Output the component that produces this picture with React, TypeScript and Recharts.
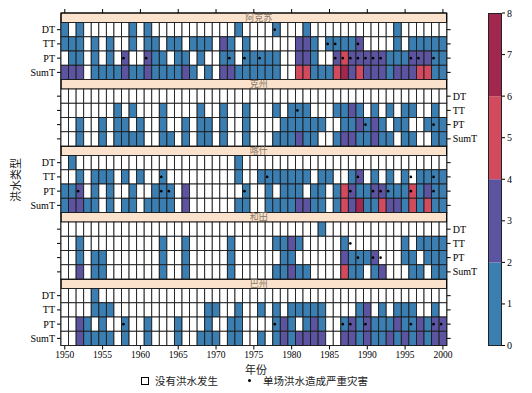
import React from 'react';
import { ScatterChart, Scatter, XAxis, YAxis, ReferenceArea, BarChart, Bar } from 'recharts';

// years on the x axis, one column each
const YEARS = [
  1950, 1951, 1952, 1953, 1954, 1955, 1956, 1957, 1958, 1959,
  1960, 1961, 1962, 1963, 1964, 1965, 1966, 1967, 1968, 1969,
  1970, 1971, 1972, 1973, 1974, 1975, 1976, 1977, 1978, 1979,
  1980, 1981, 1982, 1983, 1984, 1985, 1986, 1987, 1988, 1989,
  1990, 1991, 1992, 1993, 1994, 1995, 1996, 1997, 1998, 1999, 2000,
];
const YEAR_TICKS = [1950, 1955, 1960, 1965, 1970, 1975, 1980, 1985, 1990, 1995, 2000];
const REGIONS = ['阿克苏', '克州', '喀什', '和田', '巴州'];
const TYPES = ['DT', 'TT', 'PT', 'SumT'];
const CBAR_TICKS = [0, 1, 2, 3, 4, 5, 6, 7, 8];

// flood counts per year (0 = no flood)
const akesuDT = [1,0,1,0,0,0,0,0,0,1,0,1,0,0,0,0,0,0,0,0,0,0,0,1,0, 0,0,0,1,0,0,0,1,0,0,0,0,0,0,0,0,0,0,0,1,0,0,0,0,0,0];
const akesuTT = [1,1,1,0,1,0,1,0,0,1,0,1,1,0,1,1,0,1,1,1,0,2,1,0,1, 0,0,0,0,0,0,2,2,1,0,1,1,1,1,2,0,0,0,0,1,0,1,1,1,1,1];
const akesuPT = [0,1,1,0,1,0,1,0,2,0,0,2,1,1,0,1,1,0,1,0,0,1,1,0,1, 1,1,1,1,0,0,2,2,1,0,0,2,4,2,2,2,2,2,1,1,1,2,2,2,1,1];
const akesuSum = [2,2,2,0,1,1,1,1,2,1,1,2,1,1,1,1,2,1,0,1,0,2,2,1,1, 1,1,1,1,0,0,4,4,1,1,1,4,6,2,4,2,2,2,1,2,2,2,4,4,1,1];

const kezhouDT = [0,0,0,0,0,0,0,0,0,0,0,0,0,0,0,0,0,0,0,0,0,0,0,0,0, 0,0,0,0,0,0,0,0,0,0,0,0,0,0,0,0,0,0,0,0,0,0,0,0,0,0];
const kezhouTT = [0,0,0,0,0,0,0,1,0,1,0,0,0,1,0,0,0,0,1,0,0,1,0,0,1, 0,0,0,1,0,1,1,1,0,0,0,1,1,2,1,0,1,0,1,0,1,1,0,0,1,0];
const kezhouPT = [0,0,1,0,0,1,0,1,1,0,1,0,0,1,0,0,1,0,1,1,0,1,0,0,1, 0,0,0,0,1,1,1,1,1,1,0,0,1,1,2,1,2,1,0,1,1,0,0,1,1,1];
const kezhouSum = [0,0,1,0,0,1,0,1,1,1,1,0,0,1,1,0,1,0,1,1,0,1,0,0,1, 0,0,0,1,1,1,2,1,1,0,0,1,2,2,1,1,2,1,1,0,1,1,0,0,1,1];

const kashiDT = [0,1,0,0,0,0,0,0,0,0,0,0,0,0,0,0,0,0,0,0,0,0,0,1,0, 0,0,0,0,0,0,0,0,0,0,0,0,0,0,0,0,0,0,0,0,0,0,0,0,0,0];
const kashiTT = [0,0,1,0,1,1,1,0,1,0,1,0,0,1,0,0,0,0,0,0,0,0,0,1,0, 0,1,1,1,1,1,1,1,0,1,1,0,0,1,2,0,1,0,1,0,1,0,1,1,1,1];
const kashiPT = [1,1,2,0,1,0,1,0,0,1,0,0,1,1,1,0,2,0,0,0,0,0,0,0,1, 0,0,1,0,1,1,1,0,1,1,0,1,4,2,1,1,2,2,1,1,1,4,1,2,1,1];
const kashiSum = [1,2,2,1,1,0,1,0,1,1,0,1,1,1,1,0,2,0,0,0,0,0,0,1,1, 0,0,1,1,1,1,2,2,1,1,0,1,4,2,6,1,1,4,2,2,1,4,1,4,1,1];

const hetianDT = [0,0,0,0,0,0,0,0,0,0,0,0,0,0,0,0,0,0,0,0,0,0,0,0,0, 0,0,0,0,0,0,0,0,0,1,0,0,0,0,0,0,0,0,0,0,0,0,0,0,0,0];
const hetianTT = [0,0,1,0,0,0,0,0,0,0,0,0,0,1,0,0,1,0,0,0,0,0,1,0,0, 0,0,0,1,1,2,1,0,0,0,0,0,1,0,0,0,0,0,0,0,1,0,1,1,1,1];
const hetianPT = [0,0,1,0,1,1,0,0,0,0,0,0,0,1,0,0,1,0,0,0,0,0,1,0,0, 0,0,0,0,1,1,0,0,0,0,0,0,2,1,1,1,2,0,0,0,1,1,0,1,1,1];
const hetianSum = [0,0,2,0,1,1,0,0,0,0,0,0,0,1,0,0,1,0,0,0,0,0,1,0,0, 0,0,0,1,1,2,1,1,0,0,0,0,4,1,1,0,1,2,0,0,0,1,1,0,1,1];

const bazhouDT = [0,0,0,0,1,0,0,0,0,0,0,0,0,0,0,0,0,0,0,0,0,0,0,0,0, 0,0,0,0,0,0,0,0,0,0,0,0,0,0,0,0,0,0,0,0,0,0,0,0,0,0];
const bazhouTT = [0,0,0,0,1,1,1,0,0,0,0,0,0,0,0,0,0,0,0,1,1,0,0,1,0, 0,1,0,1,0,1,1,1,1,1,0,0,0,0,1,2,0,1,0,1,1,1,0,0,1,0];
const bazhouPT = [0,0,2,1,0,1,0,0,1,0,0,1,0,0,0,1,0,0,0,1,0,0,1,1,0, 0,0,0,1,2,1,0,1,2,1,0,0,1,2,1,2,1,1,1,2,1,1,2,1,2,2];
const bazhouSum = [0,0,2,1,1,1,1,0,1,0,0,1,0,0,0,1,0,0,1,1,1,0,1,1,0, 0,1,0,1,2,1,2,2,2,2,0,0,2,2,1,2,1,1,2,1,2,1,2,1,2,2];

// years where a single flood caused a severe disaster
const akesuDotDT = [1978];
const akesuDotTT = [1985, 1986, 1989];
const akesuDotPT = [1958, 1961, 1972, 1974, 1976, 1986, 1987, 1988, 1989, 1990, 1991, 1992, 1996, 1997, 1999];
const kezhouDotTT = [1981];
const kezhouDotPT = [1990, 1999];
const kashiDotTT = [1963, 1977, 1989, 1996, 1999];
const kashiDotPT = [1952, 1963, 1964, 1974, 1988, 1991, 1992, 1993, 1996, 1999];
const hetianDotTT = [1988];
const hetianDotPT = [1989, 1991, 1992];
const bazhouDotPT = [1958, 1978, 1987, 1988, 1990, 1996, 1999, 2000];

const GRID = [
  [akesuDT, akesuTT, akesuPT, akesuSum],
  [kezhouDT, kezhouTT, kezhouPT, kezhouSum],
  [kashiDT, kashiTT, kashiPT, kashiSum],
  [hetianDT, hetianTT, hetianPT, hetianSum],
  [bazhouDT, bazhouTT, bazhouPT, bazhouSum],
];
const DOTS = [
  [akesuDotDT, akesuDotTT, akesuDotPT, []],
  [[], kezhouDotTT, kezhouDotPT, []],
  [[], kashiDotTT, kashiDotPT, []],
  [[], hetianDotTT, hetianDotPT, []],
  [[], [], bazhouDotPT, []],
];

const BIN_COLORS = ['#3b7fb2', '#5c54a0', '#d24a5e', '#a2274f'];
const STRIP_FILL = '#fbe2cc';
const SERIF = '"Liberation Serif", "DejaVu Serif", serif';
const CJK = '"Noto Sans CJK SC", sans-serif';

// layout
const W = 532;
const H = 393;
const LEFT_AXIS_W = 61;
const PLOT_R = 446.7;
const PLOT_T = 13;
const PLOT_B = 345.5;
const STRIP = 0.67;
const PANEL = 4 + STRIP;
const TOTAL = PANEL * REGIONS.length;
const CELL_W = (PLOT_R - LEFT_AXIS_W) / YEARS.length;
const CELL_H = (PLOT_B - PLOT_T) / TOTAL;

const rowY = (p: number, r: number) => p * PANEL + STRIP + r + 0.5;

const cellColor = (v: number) => (v <= 0 ? '#ffffff' : BIN_COLORS[Math.min(3, Math.floor(v / 2))]);

const cells: { x: number; y: number; v: number }[] = [];
GRID.forEach((rows, p) =>
  rows.forEach((vals, r) => vals.forEach((v, i) => cells.push({ x: YEARS[i], y: rowY(p, r), v })))
);
const dots: { x: number; y: number }[] = [];
DOTS.forEach((rows, p) => rows.forEach((ys, r) => ys.forEach((yr) => dots.push({ x: yr, y: rowY(p, r) }))));

const yTicks: number[] = [];
REGIONS.forEach((_, p) => TYPES.forEach((_, r) => yTicks.push(rowY(p, r))));

const tickLabel = (side: 'left' | 'right') => (v: number) => {
  const idx = yTicks.findIndex((t) => Math.abs(t - v) < 1e-6);
  if (idx < 0) return '';
  const p = Math.floor(idx / 4);
  const onLeft = p % 2 === 0;
  if ((side === 'left') !== onLeft) return '';
  return TYPES[idx % 4];
};

const Cell = (props: any) => {
  const { cx, cy, payload } = props;
  return (
    <rect
      x={cx - CELL_W / 2}
      y={cy - CELL_H / 2}
      width={CELL_W}
      height={CELL_H}
      fill={cellColor(payload.v)}
      stroke="#1c1c1c"
      strokeWidth={0.9}
    />
  );
};

const Dot = (props: any) => <circle cx={props.cx - 1.8} cy={props.cy} r={1.3} fill="#000" />;

const cbarData = [{ name: 'cb', b0: 2, b1: 2, b2: 2, b3: 2 }];

const serifTick = { fontSize: 10, fill: '#000', fontFamily: SERIF, style: { fontFamily: SERIF } };

export default function App() {
  return (
    <div style={{ position: 'absolute', left: 0, top: 0, width: W, height: H, background: '#fff', fontFamily: SERIF }}>
      <ScatterChart width={W} height={H} margin={{ top: 8, right: W - PLOT_R - 40, bottom: 17.5, left: 0 }}>
        <XAxis
          type="number"
          dataKey="x"
          xAxisId="bottom"
          domain={[1949.5, 2000.5]}
          ticks={YEAR_TICKS}
          height={30}
          axisLine={false}
          tickSize={4}
          tickLine={{ stroke: '#000' }}
          tick={{ ...serifTick, fontSize: 9.5 }}
          interval={0}
        />
        <XAxis
          type="number"
          dataKey="x"
          xAxisId="top"
          orientation="top"
          domain={[1949.5, 2000.5]}
          ticks={YEAR_TICKS}
          height={5}
          axisLine={false}
          tickSize={4}
          tickLine={{ stroke: '#000' }}
          tickFormatter={() => ''}
          interval={0}
        />
        <YAxis
          type="number"
          dataKey="y"
          yAxisId="left"
          domain={[0, TOTAL]}
          reversed
          ticks={yTicks}
          width={LEFT_AXIS_W}
          axisLine={false}
          tickSize={4}
          tickLine={{ stroke: '#000' }}
          tickFormatter={tickLabel('left')}
          tick={serifTick}
          interval={0}
        />
        <YAxis
          type="number"
          dataKey="y"
          yAxisId="right"
          orientation="right"
          domain={[0, TOTAL]}
          reversed
          ticks={yTicks}
          width={40}
          axisLine={false}
          tickSize={4}
          tickLine={{ stroke: '#000' }}
          tickFormatter={tickLabel('right')}
          tick={{ ...serifTick, textAnchor: 'start' }}
          interval={0}
        />
        {REGIONS.map((name, p) => (
          <ReferenceArea
            key={name}
            xAxisId="bottom"
            yAxisId="left"
            x1={1949.5}
            x2={2000.5}
            y1={p * PANEL}
            y2={p * PANEL + STRIP}
            fill={STRIP_FILL}
            fillOpacity={1}
            stroke="#1c1c1c"
            strokeWidth={1}
            label={{ value: name, position: 'center', fill: '#8a7866', fontSize: 9, fontFamily: CJK, dx: 5 }}
          />
        ))}
        <Scatter
          data={cells}
          xAxisId="bottom"
          yAxisId="left"
          shape={<Cell />}
          isAnimationActive={false}
        />
        <Scatter data={dots} xAxisId="top" yAxisId="right" shape={<Dot />} isAnimationActive={false} />
        {REGIONS.map((name, p) => (
          <ReferenceArea
            key={'b' + name}
            xAxisId="bottom"
            yAxisId="left"
            x1={1949.5}
            x2={2000.5}
            y1={p * PANEL}
            y2={(p + 1) * PANEL}
            fill="none"
            stroke="#000"
            strokeWidth={1.2}
          />
        ))}
      </ScatterChart>

      <div style={{ position: 'absolute', left: 480, top: 0 }}>
        <BarChart width={52} height={H} data={cbarData} margin={{ top: PLOT_T, bottom: H - PLOT_B, left: 8, right: 0 }} barCategoryGap={0}>
          <XAxis dataKey="name" hide />
          <YAxis
            orientation="right"
            domain={[0, 8]}
            ticks={CBAR_TICKS}
            width={30}
            axisLine={false}
            tickSize={3}
            tickLine={{ stroke: '#000' }}
            tick={serifTick}
            interval={0}
          />
          {BIN_COLORS.map((c, i) => (
            <Bar key={c} dataKey={'b' + i} stackId="cb" fill={c} isAnimationActive={false} />
          ))}
        </BarChart>
        <div style={{ position: 'absolute', left: 8, top: PLOT_T, width: 14, height: PLOT_B - PLOT_T, border: '1px solid #222', boxSizing: 'border-box', pointerEvents: 'none' }} />
      </div>

      <div style={{ position: 'absolute', left: 15, top: 180, transform: 'translate(-50%, -50%) rotate(-90deg)', fontFamily: CJK, fontSize: 11, whiteSpace: 'nowrap', color: '#222' }}>
        洪水类型
      </div>
      <div style={{ position: 'absolute', left: 256, top: 361, transform: 'translateX(-50%)', fontFamily: CJK, fontSize: 11, color: '#222' }}>
        年份
      </div>
      <div style={{ position: 'absolute', left: 141, top: 373, display: 'flex', alignItems: 'center', fontFamily: CJK, fontSize: 10.5, color: '#222', whiteSpace: 'nowrap' }}>
        <span style={{ display: 'inline-block', width: 6, height: 6, border: '1.5px solid #000', marginRight: 6 }} />
        <span>没有洪水发生</span>
        <span style={{ display: 'inline-block', width: 3, height: 3, borderRadius: 2, background: '#000', marginLeft: 30, marginRight: 12 }} />
        <span>单场洪水造成严重灾害</span>
      </div>
    </div>
  );
}
